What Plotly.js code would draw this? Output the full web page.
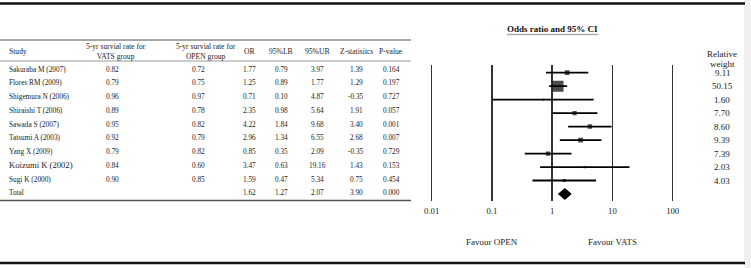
<!DOCTYPE html>
<html>
<head>
<meta charset="utf-8">
<script src="https://cdn.plot.ly/plotly-3.0.1.min.js"></script>
<style>html,body{margin:0;padding:0;background:#fff;}#chart{width:751px;height:268px;}</style>
</head>
<body>
<div id="chart"></div>
<script>
// ---- data ----
var studies = ["Sakuraba M (2007)","Flores RM (2009)","Shigemura N (2006)","Shiraishi T (2006)","Sawada S (2007)","Tatsumi A (2003)","Yang X (2009)","Koizumi K (2002)","Sugi K (2000)"];
var vatsRate = [0.82,0.79,0.96,0.89,0.95,0.92,0.79,0.84,0.90];
var openRate = [0.72,0.75,0.97,0.78,0.82,0.79,0.82,0.60,0.85];
var oddsRatio = [1.77,1.25,0.71,2.35,4.22,2.96,0.85,3.47,1.59];
var lowerCI = [0.79,0.89,0.10,0.98,1.84,1.34,0.35,0.63,0.47];
var upperCI = [3.97,1.77,4.87,5.64,9.68,6.55,2.09,19.16,5.34];
var zStat = [1.39,1.29,-0.35,1.91,3.40,2.68,-0.35,1.43,0.75];
var pValue = [0.164,0.197,0.727,0.057,0.001,0.007,0.729,0.153,0.454];
var weights = [9.11,50.15,1.60,7.70,8.60,9.39,7.39,2.03,4.03];
var totalLabel = "Total";
var totalOR = 1.62, totalLB = 1.27, totalUB = 2.07, totalZ = 3.90, totalP = 0.000;
var tickVals = [0.01,0.1,1,10,100];
var tickText = ["0.01","0.1","1","10","100"];
var headers = ["Study","5-yr survial rate for<br>VATS group","5-yr survial rate for<br>OPEN group","OR","95%LB","95%UB","Z-statisitcs","P-value"];

// ---- layout helpers ----
var W = 751, H = 268;
var FONT = "Liberation Serif, Times New Roman, serif";
function px(x){return x/W;}
function py(y){return 1 - y/H;}

var rowIdx = studies.map(function(_,i){return i;});
var totalIdx = studies.length;

// CI lines
var ciX = [], ciY = [];
for (var i=0;i<studies.length;i++){ciX.push(lowerCI[i],upperCI[i],null);ciY.push(i,i,null);}

var traces = [
  {type:"scatter",mode:"lines",x:ciX,y:ciY,line:{color:"#000",width:1.8},hoverinfo:"skip"},
  {type:"scatter",mode:"markers",x:oddsRatio,y:rowIdx,
   marker:{symbol:"square",color:"#000",size:weights.map(function(w){return 1.55*Math.sqrt(w);}),line:{width:0}}},
  {type:"scatter",mode:"lines",fill:"toself",fillcolor:"#000",line:{color:"#000",width:1},
   x:[totalLB,totalOR,totalUB,totalOR,totalLB],
   y:[totalIdx,totalIdx-0.4,totalIdx,totalIdx+0.4,totalIdx]}
];

var ann = [];
var colX = [7,116,206,249,281,317,356,391];
// headers
headers.forEach(function(h,j){
  ann.push({xref:"paper",yref:"paper",x:px(colX[j]),y:py(51.5),text:h,showarrow:false,
    xanchor:j===0?"left":"center",yanchor:"middle",align:"center",
    font:{family:FONT,size:7.6,color:"#222"}});
});
var valX = [7,113,198,249,281,317,356,391];
function tableRowY(i){return 69 + 13.75*i;}
function addCell(j,i,text,size){
  ann.push({xref:"paper",yref:"paper",x:px(valX[j]),y:py(tableRowY(i)),text:text,showarrow:false,
    xanchor:j===0?"left":"center",yanchor:"middle",font:{family:FONT,size:size||7.3,color:"#222"}});
}
for (var i=0;i<studies.length;i++){
  addCell(0,i,studies[i], studies[i].indexOf("Koizumi")===0 ? 8.6 : 7.3);
  addCell(1,i,vatsRate[i].toFixed(2));
  addCell(2,i,openRate[i].toFixed(2));
  addCell(3,i,oddsRatio[i].toFixed(2));
  addCell(4,i,lowerCI[i].toFixed(2));
  addCell(5,i,upperCI[i].toFixed(2));
  addCell(6,i,zStat[i].toFixed(2));
  addCell(7,i,pValue[i].toFixed(3));
}
addCell(0,totalIdx,totalLabel);
addCell(3,totalIdx,totalOR.toFixed(2));
addCell(4,totalIdx,totalLB.toFixed(2));
addCell(5,totalIdx,totalUB.toFixed(2));
addCell(6,totalIdx,totalZ.toFixed(2));
addCell(7,totalIdx,totalP.toFixed(3));

// weights
ann.push({xref:"paper",yref:"paper",x:px(722),y:py(54),text:"Relative",showarrow:false,
  xanchor:"center",yanchor:"middle",font:{family:FONT,size:9,color:"#222"}});
ann.push({xref:"paper",yref:"paper",x:px(722),y:py(64),text:"weight",showarrow:false,
  xanchor:"center",yanchor:"middle",font:{family:FONT,size:9,color:"#222"}});
weights.forEach(function(w,i){
  ann.push({xref:"paper",yref:"y",x:px(722),y:i,text:w.toFixed(2),showarrow:false,
    xanchor:"center",yanchor:"middle",font:{family:FONT,size:9,color:"#222"}});
});
// title
ann.push({xref:"paper",yref:"paper",x:px(552.5),y:py(29),text:"<b>Odds ratio and 95% CI</b>",showarrow:false,
  xanchor:"center",yanchor:"middle",font:{family:FONT,size:9,color:"#111"}});
// favour labels
ann.push({xref:"x",yref:"paper",x:Math.log10(0.1),y:py(242),text:"Favour OPEN",showarrow:false,
  xanchor:"center",yanchor:"middle",font:{family:FONT,size:9,color:"#222"}});
ann.push({xref:"x",yref:"paper",x:Math.log10(10),y:py(242),text:"Favour VATS",showarrow:false,
  xanchor:"center",yanchor:"middle",font:{family:FONT,size:9,color:"#222"}});

var shapes = [
  {type:"rect",xref:"paper",yref:"paper",x0:px(744),x1:1,y0:0,y1:1,fillcolor:"#f0f0f0",line:{width:0},layer:"below"},
  {type:"line",xref:"paper",yref:"paper",x0:0,x1:px(745),y0:py(3.5),y1:py(3.5),line:{color:"#111",width:2.5}},
  {type:"line",xref:"paper",yref:"paper",x0:0,x1:px(745),y0:py(263),y1:py(263),line:{color:"#111",width:2.5}},
  {type:"line",xref:"paper",yref:"paper",x0:0,x1:px(411),y0:py(40),y1:py(40),line:{color:"#888",width:1.3}},
  {type:"line",xref:"paper",yref:"paper",x0:0,x1:px(411),y0:py(61),y1:py(61),line:{color:"#999",width:1}},
  {type:"line",xref:"paper",yref:"paper",x0:0,x1:px(411),y0:py(200.5),y1:py(200.5),line:{color:"#555",width:1.3}},
  {type:"line",xref:"paper",yref:"paper",x0:px(507),x1:px(598),y0:py(34.5),y1:py(34.5),line:{color:"#aaa",width:1.5}}
];

var dec = 60.25, pad = 0.08;
var layout = {
  width:W,height:H,margin:{l:0,r:0,t:0,b:0},paper_bgcolor:"#fff",plot_bgcolor:"rgba(0,0,0,0)",
  showlegend:false,
  font:{family:FONT},
  xaxis:{type:"log",range:[-2-pad,2+pad],domain:[px(431.7-pad*dec),px(672.7+pad*dec)],
    tickvals:tickVals,ticktext:tickText,showgrid:true,gridcolor:"#333",gridwidth:1.5,
    zeroline:false,showline:false,ticks:"",ticklabelstandoff:3,tickfont:{family:FONT,size:8.7,color:"#222"},fixedrange:true},
  yaxis:{range:[9.52,-0.57],domain:[py(201),py(65)],showgrid:false,zeroline:false,showticklabels:false,showline:false,fixedrange:true},
  annotations:ann,shapes:shapes
};
Plotly.newPlot("chart",traces,layout,{displayModeBar:false,staticPlot:true});
</script>
</body>
</html>
